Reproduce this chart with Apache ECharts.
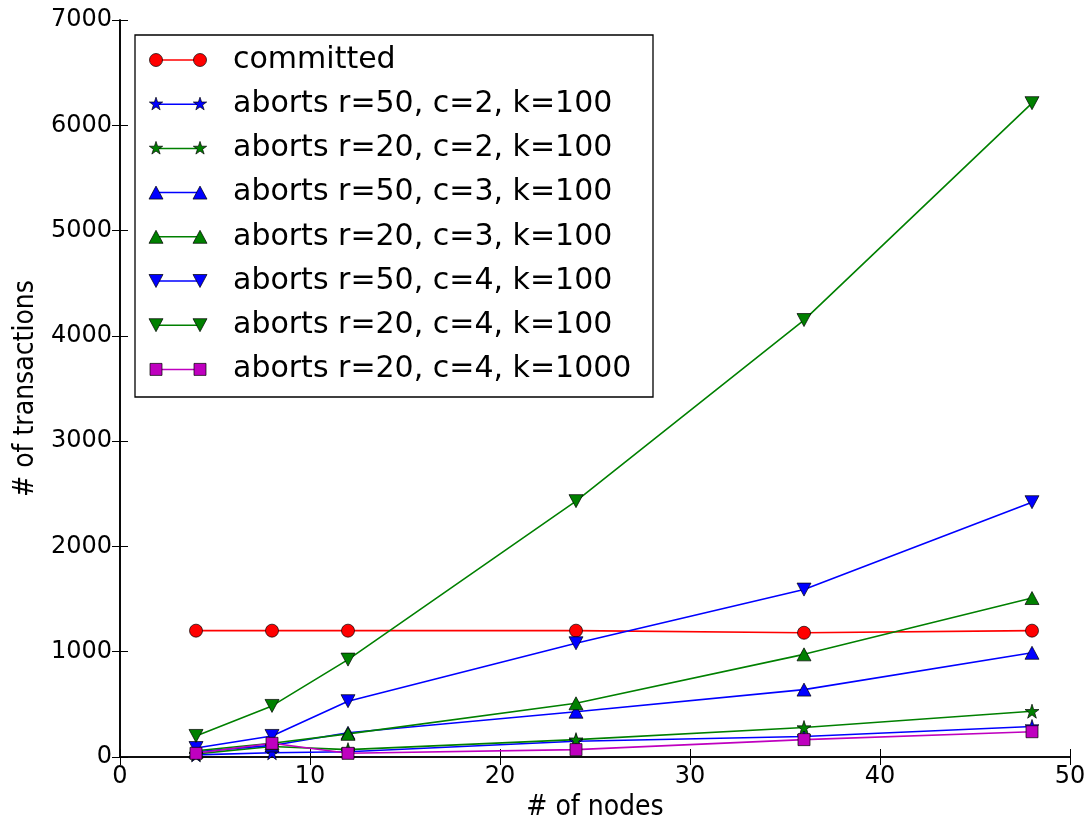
<!DOCTYPE html>
<html>
<head>
<meta charset="utf-8">
<title># of transactions vs # of nodes</title>
<script src="https://cdn.jsdelivr.net/npm/echarts@6/dist/echarts.min.js"></script>
<style>
  html, body { margin: 0; padding: 0; background: #ffffff; }
  #chart { width: 1089px; height: 817px; }
</style>
</head>
<body>
<div id="chart"></div>
<script>
// x values: number of nodes
const nodes = [4, 8, 12, 24, 36, 48];

// y values: number of transactions per configuration
const committed        = [1200, 1200, 1200, 1200, 1180, 1200];
const abortsR50C2K100  = [20, 40, 50, 150, 195, 290];
const abortsR20C2K100  = [30, 100, 70, 165, 280, 435];
const abortsR50C3K100  = [50, 110, 230, 430, 640, 990];
const abortsR20C3K100  = [60, 130, 220, 510, 975, 1510];
const abortsR50C4K100  = [85, 200, 530, 1080, 1590, 2420];
const abortsR20C4K100  = [200, 485, 925, 2430, 4150, 6210];
const abortsR20C4K1000 = [35, 130, 35, 70, 165, 240];

// axis ticks
const xTicks = [0, 10, 20, 30, 40, 50];
const yTicks = [0, 1000, 2000, 3000, 4000, 5000, 6000, 7000];

const RED = '#ff0000', BLUE = '#0000ff', GREEN = '#008000', MAGENTA = '#bf00bf';
const STAR = 'path://M0,-100 L22.45,-30.9 L95.1,-30.9 L36.3,11.8 L58.8,80.9 L0,38.2 L-58.8,80.9 L-36.3,11.8 L-95.1,-30.9 L-22.45,-30.9 Z';

const lines = [
  { name: 'committed',                  data: committed,        color: RED,     marker: 'circle' },
  { name: 'aborts r=50, c=2, k=100',    data: abortsR50C2K100,  color: BLUE,    marker: 'star' },
  { name: 'aborts r=20, c=2, k=100',    data: abortsR20C2K100,  color: GREEN,   marker: 'star' },
  { name: 'aborts r=50, c=3, k=100',    data: abortsR50C3K100,  color: BLUE,    marker: 'up' },
  { name: 'aborts r=20, c=3, k=100',    data: abortsR20C3K100,  color: GREEN,   marker: 'up' },
  { name: 'aborts r=50, c=4, k=100',    data: abortsR50C4K100,  color: BLUE,    marker: 'down' },
  { name: 'aborts r=20, c=4, k=100',    data: abortsR20C4K100,  color: GREEN,   marker: 'down' },
  { name: 'aborts r=20, c=4, k=1000',   data: abortsR20C4K1000, color: MAGENTA, marker: 'square' }
];

function symbolFor(marker) {
  switch (marker) {
    case 'circle': return { symbol: 'circle', symbolSize: 13, symbolRotate: 0 };
    case 'star':   return { symbol: STAR, symbolSize: 14, symbolRotate: 0 };
    case 'up':     return { symbol: 'triangle', symbolSize: [14, 13], symbolRotate: 0 };
    case 'down':   return { symbol: 'triangle', symbolSize: [14, 13], symbolRotate: 180 };
    case 'square': return { symbol: 'rect', symbolSize: 12, symbolRotate: 0 };
  }
}

// Legend handle marker drawn as a graphic element
function legendMarker(marker, cx, cy, color) {
  const style = { fill: color, stroke: '#000', lineWidth: 0.7 };
  if (marker === 'circle') {
    return { type: 'circle', shape: { cx: cx, cy: cy, r: 6.5 }, style: style, z: 101 };
  }
  if (marker === 'square') {
    return { type: 'rect', shape: { x: cx - 6, y: cy - 6, width: 12, height: 12 }, style: style, z: 101 };
  }
  if (marker === 'up' || marker === 'down') {
    const s = marker === 'up' ? 1 : -1;
    return { type: 'polygon', shape: { points: [[cx, cy - 6.5 * s], [cx + 7, cy + 6.5 * s], [cx - 7, cy + 6.5 * s]] }, style: style, z: 101 };
  }
  // star
  const pts = [];
  for (let k = 0; k < 10; k++) {
    const r = (k % 2 === 0) ? 7 : 2.7;
    const a = -Math.PI / 2 + k * Math.PI / 5;
    pts.push([cx + r * Math.cos(a), cy + r * Math.sin(a)]);
  }
  return { type: 'polygon', shape: { points: pts }, style: style, z: 101 };
}

const legendLeft = 135, legendTop = 35, legendW = 518, legendH = 362;
const rowStart = 60, rowStep = 44.2;
const legendElements = [
  { type: 'rect', shape: { x: legendLeft, y: legendTop, width: legendW, height: legendH },
    style: { fill: '#ffffff', stroke: '#000000', lineWidth: 1.3 }, z: 100 }
];
lines.forEach(function (l, i) {
  const cy = rowStart + i * rowStep;
  legendElements.push({ type: 'line', shape: { x1: 156, y1: cy, x2: 200, y2: cy },
    style: { stroke: l.color, lineWidth: 1.5 }, z: 101 });
  legendElements.push(legendMarker(l.marker, 156, cy, l.color));
  legendElements.push(legendMarker(l.marker, 200, cy, l.color));
  legendElements.push({ type: 'text', x: 233, y: cy,
    style: { text: l.name, fill: '#000', font: '30px "DejaVu Sans"', verticalAlign: 'middle', textAlign: 'left' }, z: 101 });
});

const series = lines.map(function (l) {
  const s = symbolFor(l.marker);
  return {
    name: l.name,
    type: 'line',
    xAxisIndex: 0,
    yAxisIndex: 0,
    data: nodes.map(function (x, i) { return [x, l.data[i]]; }),
    symbol: s.symbol,
    symbolSize: s.symbolSize,
    symbolRotate: s.symbolRotate,
    showSymbol: true,
    showAllSymbol: true,
    lineStyle: { color: l.color, width: 1.6 },
    itemStyle: { color: l.color, borderColor: '#000000', borderWidth: 0.7 },
    emphasis: { disabled: true }
  };
});

const tickFont = { fontFamily: 'DejaVu Sans', fontSize: 24, color: '#000' };
const plainNumber = function (v) { return String(v); };
const axisCommonLine = { show: true, lineStyle: { color: '#000', width: 1.6 } };
const tickIn = { show: true, inside: true, length: 8, lineStyle: { color: '#000', width: 1 } };

const chart = echarts.init(document.getElementById('chart'), null, { renderer: 'canvas' });
chart.setOption({
  animation: false,
  backgroundColor: '#ffffff',
  grid: { left: 120, top: 20, width: 950, height: 737, containLabel: false, outerBoundsMode: 'none' },
  xAxis: [
    {
      type: 'value', position: 'bottom',
      min: xTicks[0], max: xTicks[xTicks.length - 1], interval: 10,
      name: '# of nodes', nameLocation: 'middle', nameGap: 22,
      nameTextStyle: { fontFamily: 'DejaVu Sans Condensed', fontSize: 28, color: '#000', verticalAlign: 'top' },
      axisLine: axisCommonLine, axisTick: tickIn,
      axisLabel: Object.assign({ margin: 8, formatter: plainNumber }, tickFont),
      splitLine: { show: false }
    },
    {
      type: 'value', position: 'top',
      min: xTicks[0], max: xTicks[xTicks.length - 1], interval: 10,
      axisLine: axisCommonLine, axisTick: tickIn,
      axisLabel: { show: false }, splitLine: { show: false }
    }
  ],
  yAxis: [
    {
      type: 'value', position: 'left',
      min: yTicks[0], max: yTicks[yTicks.length - 1], interval: 1000,
      name: '# of transactions', nameLocation: 'middle', nameGap: 76, nameRotate: 90,
      nameTextStyle: { fontFamily: 'DejaVu Sans Condensed', fontSize: 28, color: '#000' },
      axisLine: axisCommonLine, axisTick: tickIn,
      axisLabel: Object.assign({ margin: 8, formatter: plainNumber }, tickFont),
      splitLine: { show: false }
    },
    {
      type: 'value', position: 'right',
      min: yTicks[0], max: yTicks[yTicks.length - 1], interval: 1000,
      axisLine: axisCommonLine, axisTick: tickIn,
      axisLabel: { show: false }, splitLine: { show: false }
    }
  ],
  series: series,
  graphic: legendElements
});
</script>
</body>
</html>
